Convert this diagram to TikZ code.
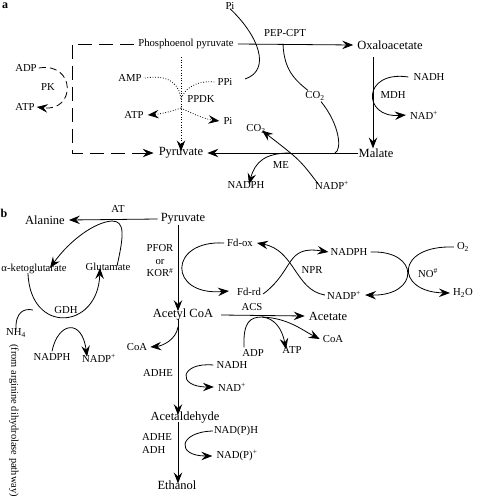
\documentclass[tikz,border=0pt]{standalone}
\usepackage{fontspec}
\setmainfont{Liberation Serif}
\usetikzlibrary{arrows.meta}
\begin{document}
\begin{tikzpicture}[x=1pt,y=-1pt,
  cmp/.style={font=\fontsize{12.5}{14}\selectfont, inner sep=0pt},
  lab/.style={font=\fontsize{10.7}{12}\selectfont, inner sep=0pt},
  ln/.style={line width=0.8pt},
  arr/.style={ln,-{Stealth[length=11pt,width=8.5pt,inset=4pt]}},
  dsh/.style={dash pattern=on 14pt off 7pt},
  dsh2/.style={dash pattern=on 7pt off 4pt},
  dtt/.style={dash pattern=on 0.8pt off 1.8pt}]
\useasboundingbox (0,0) rectangle (480,501);
% ---------------- panel a
\node[font=\bfseries\fontsize{12}{14}\selectfont, inner sep=0pt] (la) at (5,6) {a};
\node[lab] (pi1) at (230,6) {Pi};
\node[lab] (pep) at (186,44) {Phosphoenol pyruvate};
\node[lab] (pepcpt) at (285,33) {PEP-CPT};
\node[cmp] (oaa) at (390,45) {Oxaloacetate};
\node[lab] (adp1) at (26,68) {ADP};
\node[lab] (atp1) at (25,107) {ATP};
\node[lab] (pk) at (48,87) {PK};
\node[lab] (amp) at (130,78) {AMP};
\node[lab] (ppi) at (225,82) {PPi};
\node[lab] (ppdk) at (201,99) {PPDK};
\node[lab] (atp2) at (134,115) {ATP};
\node[lab] (pi2) at (228,121) {Pi};
\node[lab] (co2a) at (315,96) {CO\textsubscript{2}};
\node[lab] (nadh1) at (429,77) {NADH};
\node[lab] (mdh) at (393,95) {MDH};
\node[lab] (nadp1) at (424,115) {NAD\textsuperscript{+}};
\node[lab] (co2b) at (256,129) {CO\textsubscript{2}};
\node[cmp] (pyra) at (181,153) {Pyruvate};
\node[cmp] (malate) at (376,153) {Malate};
\node[lab] (me) at (281,165) {ME};
\node[lab] (nadph1) at (246,185) {NADPH};
\node[lab] (nadpp1) at (332,185) {NADP\textsuperscript{+}};
\coordinate (dtl) at (72,44);
\coordinate (dbl) at (72,153);
\coordinate (jc1) at (283,44);
\coordinate (jc2) at (335,153);
\coordinate (jme) at (290,153);
\coordinate (pitail) at (245,79);
\coordinate (mdhtop) at (373,57);
\coordinate (ppdktop) at (181,57);
\coordinate (ppj1) at (181,100);
\coordinate (ppj2) at (181,108);
% dashed PK route
\draw[arr,dsh] ([xshift=-4pt]pep.west) -- (dtl) -- (dbl) -- ([xshift=-5pt]pyra.west);
\draw[arr,dsh2] ([xshift=2pt]adp1.east) .. controls (76,62) and (76,112) .. ([xshift=2pt]atp1.east);
% PEP-CPT
\draw[arr] ([xshift=4pt]pep.east) -- ([xshift=-4pt]oaa.west);
\draw[ln] ([yshift=1pt]pi1.south) .. controls (258,35) and (272,70) .. (pitail);
\draw[ln] (jc1) .. controls (284,70) and (295,80) .. ([xshift=-7pt,yshift=1pt]co2a.north);
\draw[ln] ([xshift=6pt,yshift=-1pt]co2a.south) .. controls (340,125) and (342,150) .. (jc2);
% MDH
\draw[arr] (mdhtop) -- (mdhtop |- malate.north);
\draw[arr] ([xshift=-5pt]nadh1.west) .. controls (362,70) and (362,118) .. ([xshift=-4pt]nadp1.west);
% ME
\draw[arr] (malate.west) -- ([xshift=4pt]pyra.east);
\draw[arr] ([xshift=-14pt,yshift=-3pt]nadpp1.north) .. controls (300,160) .. ([xshift=6pt,yshift=3pt]co2b.south);
\draw[arr] (jme) .. controls (265,153) and (255,162) .. ([xshift=3pt,yshift=-3pt]nadph1.north);
% PPDK
\draw[arr,dtt] (ppdktop) -- ([yshift=-4pt]pyra.north -| ppdktop);
\draw[ln,dtt] ([xshift=3pt]amp.east) .. controls (170,74) and (180,85) .. (ppj1);
\draw[ln,dtt] ([xshift=-3pt]ppi.west) .. controls (195,80) and (183,90) .. (ppj1);
\draw[arr,dtt] (ppj2) .. controls (170,112) and (160,114) .. ([xshift=4pt]atp2.east);
\draw[arr,dtt] (ppj2) .. controls (195,115) and (205,119) .. ([xshift=-4pt]pi2.west);
% ---------------- panel b
\node[font=\bfseries\fontsize{12}{14}\selectfont, inner sep=0pt] (lb) at (4,213) {b};
\node[cmp] (alan) at (45,220) {Alanine};
\node[lab] (at) at (118,209) {AT};
\node[cmp] (pyrb) at (183,219) {Pyruvate};
\node[lab] (akg) at (34,269) {α-ketoglutarate};
\node[lab] (glu) at (108,267) {Glutamate};
\node[lab] (gdh) at (66,310) {GDH};
\node[lab] (nh4) at (16,333) {NH\textsubscript{4}};
\node[lab, rotate=-90, anchor=west, font=\fontsize{10.4}{12}\selectfont] (fromtxt) at (14,344) {(from arginine dihydrolase pathway)};
\node[lab] (nadph2) at (52,357) {NADPH};
\node[lab] (nadpp2) at (99,358) {NADP\textsuperscript{+}};
\node[lab, align=center, font=\fontsize{10.7}{12.5}\selectfont] (pfor) at (160,261) {PFOR\\or\\KOR\textsuperscript{\#}};
\node[lab] (fdox) at (240,243) {Fd-ox};
\node[lab] (fdrd) at (249,292) {Fd-rd};
\node[lab] (npr) at (312,270) {NPR};
\node[lab] (nadph3) at (349,252) {NADPH};
\node[lab] (nadpp3) at (344,295) {NADP\textsuperscript{+}};
\node[lab] (o2) at (463,247) {O\textsubscript{2}};
\node[lab] (no) at (428,273) {NO\textsuperscript{\#}};
\node[lab] (h2o) at (463,293) {H\textsubscript{2}O};
\node[cmp] (acoa) at (183,315) {Acetyl CoA};
\node[lab] (acs) at (252,307) {ACS};
\node[cmp] (acet) at (328,316) {Acetate};
\node[lab] (adp2) at (253,353) {ADP};
\node[lab] (atp3) at (292,350) {ATP};
\node[lab] (coa2) at (333,339) {CoA};
\node[lab] (coa1) at (137,347) {CoA};
\node[lab] (adhe1) at (158,373) {ADHE};
\node[lab] (nadh2) at (232,365) {NADH};
\node[lab] (nadp2) at (232,387) {NAD\textsuperscript{+}};
\node[cmp] (acald) at (185,418) {Acetaldehyde};
\node[lab, align=left, font=\fontsize{10.7}{13}\selectfont] (adhe2) at (157,443) {ADHE\\ADH};
\node[lab] (nadph4) at (236,431) {NAD(P)H};
\node[lab] (nadpp4) at (237,456) {NAD(P)\textsuperscript{+}};
\node[cmp] (eth) at (177,485) {Ethanol};
\coordinate (jat) at (112,221);
\coordinate (jg1) at (33,310);
\coordinate (jacs) at (262,317);
\coordinate (jcoa) at (178,327);
% AT
\draw[arr] ([xshift=-3pt]pyrb.west) -- ([xshift=4pt]alan.east);
\draw[ln] ([xshift=9pt,yshift=-3pt]glu.north) .. controls (124,235) and (125,221) .. (jat);
\draw[arr] (jat) .. controls (95,222) and (70,240) .. ([xshift=16pt,yshift=-4pt]akg.north);
% GDH
\draw[arr] ([xshift=-6pt,yshift=1pt]akg.south) .. controls (30,335) and (98,330) .. ([xshift=-8pt,yshift=3pt]glu.south);
\draw[ln] ([yshift=-2pt]nh4.north) .. controls (15,312) and (24,308) .. (jg1);
\draw[arr] ([yshift=2pt]nadph2.north) .. controls (58,322) and (82,318) .. ([xshift=-12pt,yshift=-3pt]nadpp2.north);
% PFOR
\draw[arr] ([xshift=-5pt]pyrb.south) -- ([xshift=-5pt,yshift=-2pt]acoa.north);
\draw[arr] ([xshift=-3pt]fdox.west) .. controls (168,240) and (168,296) .. ([xshift=-8pt,yshift=1pt]fdrd.west);
% NPR
\draw[arr] ([xshift=2pt,yshift=-2pt]fdrd.east) .. controls (295,270) and (285,245) .. ([xshift=-2pt]nadph3.west);
\draw[arr] ([xshift=-2pt]nadpp3.west) .. controls (295,290) and (295,250) .. ([xshift=4pt]fdox.east);
% NO
\draw[arr] ([xshift=3pt]nadph3.east) .. controls (420,250) and (420,296) .. ([xshift=4pt]nadpp3.east);
\draw[arr] ([xshift=-3pt]o2.west) .. controls (395,245) and (395,292) .. ([xshift=-3pt]h2o.west);
% ACS
\draw[arr] ([xshift=8pt]acoa.east) -- ([xshift=-4pt]acet.west);
\draw[ln] ([xshift=-9pt,yshift=2pt]adp2.north) .. controls (243,322) and (250,317) .. (jacs);
\draw[arr] (jacs) .. controls (274,318) and (282,328) .. ([xshift=-6pt,yshift=-3pt]atp3.north);
\draw[arr] (jacs) .. controls (288,318) and (302,330) .. ([xshift=-3pt]coa2.west);
% Acetyl CoA to CoA and acetaldehyde
\draw[arr] (jcoa) .. controls (176,340) and (162,346) .. ([xshift=3pt]coa1.east);
\draw[arr] ([xshift=-5pt,yshift=2pt]acoa.south) -- ([xshift=-7pt,yshift=-3pt]acald.north);
\draw[arr] ([xshift=-3pt]nadh2.west) .. controls (180,362) and (176,387) .. ([xshift=-4pt]nadp2.west);
% Acetaldehyde to ethanol
\draw[arr] ([xshift=-7pt,yshift=2pt]acald.south) -- ([xshift=1pt,yshift=-3pt]eth.north);
\draw[arr] ([xshift=-1pt]nadph4.west) .. controls (178,432) and (176,456) .. ([xshift=-4pt]nadpp4.west);
\end{tikzpicture}
\end{document}
